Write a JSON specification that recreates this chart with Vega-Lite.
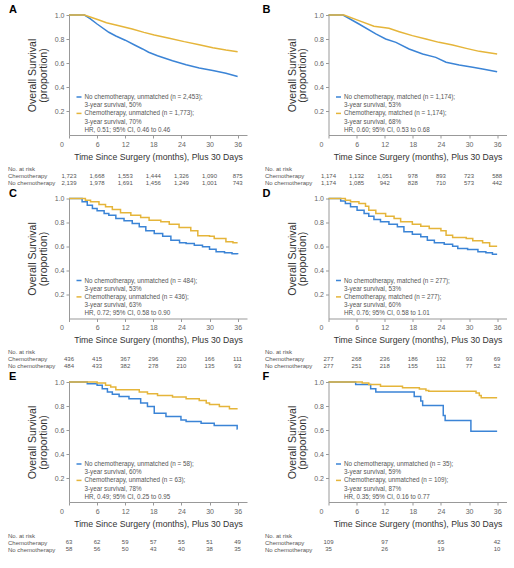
{
  "$schema": "https://vega.github.io/schema/vega-lite/v6.json",
  "background": "white",
  "padding": {"left": 7, "top": 4, "right": 0, "bottom": 0},
  "config": {
    "view": {"stroke": null},
    "font": "Liberation Sans",
    "axis": {"domainColor": "#999999", "tickColor": "#999999", "labelColor": "#666666", "labelFontSize": 7, "titleColor": "#333333", "titleFontWeight": "normal", "titleFontSize": 10.5, "grid": false, "tickSize": 3, "labelPadding": 2},
    "legend": {"orient": "none", "legendX": 6.5, "legendY": 78.5, "title": null, "symbolType": "stroke", "symbolSize": 25, "symbolStrokeWidth": 1.5, "labelFontSize": 6.3, "labelColor": "#555555", "rowPadding": 1.2, "labelOffset": 2, "padding": 0, "labelLimit": 400},
    "title": {"font": "Liberation Sans", "fontSize": 11, "fontWeight": "bold", "color": "#000000", "anchor": "start", "frame": "group", "offset": -4}
  },
  "datasets": {
    "km": [
      {"panel":"A","series":"no","month":0,"surv":1},{"panel":"A","series":"no","month":3.3,"surv":1},{"panel":"A","series":"no","month":4.5,"surv":0.97},{"panel":"A","series":"no","month":6,"surv":0.925},{"panel":"A","series":"no","month":8.5,"surv":0.856},{"panel":"A","series":"no","month":10,"surv":0.825},{"panel":"A","series":"no","month":12,"surv":0.79},{"panel":"A","series":"no","month":14,"surv":0.75},{"panel":"A","series":"no","month":15.7,"surv":0.717},{"panel":"A","series":"no","month":17,"surv":0.69},{"panel":"A","series":"no","month":18.9,"surv":0.661},{"panel":"A","series":"no","month":20.5,"surv":0.64},{"panel":"A","series":"no","month":22.1,"surv":0.619},{"panel":"A","series":"no","month":25,"surv":0.585},{"panel":"A","series":"no","month":27.8,"surv":0.558},{"panel":"A","series":"no","month":30.7,"surv":0.537},{"panel":"A","series":"no","month":33.5,"surv":0.514},{"panel":"A","series":"no","month":36,"surv":0.488},
      {"panel":"A","series":"chemo","month":0,"surv":1},{"panel":"A","series":"chemo","month":3.3,"surv":1},{"panel":"A","series":"chemo","month":6.4,"surv":0.958},{"panel":"A","series":"chemo","month":8,"surv":0.935},{"panel":"A","series":"chemo","month":10,"surv":0.917},{"panel":"A","series":"chemo","month":13.5,"surv":0.883},{"panel":"A","series":"chemo","month":16,"surv":0.855},{"panel":"A","series":"chemo","month":18.2,"surv":0.833},{"panel":"A","series":"chemo","month":21.4,"surv":0.806},{"panel":"A","series":"chemo","month":24.6,"surv":0.778},{"panel":"A","series":"chemo","month":27.8,"surv":0.753},{"panel":"A","series":"chemo","month":30.7,"surv":0.728},{"panel":"A","series":"chemo","month":33.5,"surv":0.708},{"panel":"A","series":"chemo","month":36,"surv":0.694},
      {"panel":"B","series":"no","month":0,"surv":1},{"panel":"B","series":"no","month":3.1,"surv":1},{"panel":"B","series":"no","month":6.5,"surv":0.925},{"panel":"B","series":"no","month":10.1,"surv":0.842},{"panel":"B","series":"no","month":12.2,"surv":0.8},{"panel":"B","series":"no","month":14.4,"surv":0.772},{"panel":"B","series":"no","month":17.2,"surv":0.717},{"panel":"B","series":"no","month":20.1,"surv":0.675},{"panel":"B","series":"no","month":22.9,"surv":0.647},{"panel":"B","series":"no","month":25.1,"surv":0.606},{"panel":"B","series":"no","month":27.9,"surv":0.583},{"panel":"B","series":"no","month":30.8,"surv":0.564},{"panel":"B","series":"no","month":32.9,"surv":0.55},{"panel":"B","series":"no","month":36,"surv":0.528},
      {"panel":"B","series":"chemo","month":0,"surv":1},{"panel":"B","series":"chemo","month":3.3,"surv":1},{"panel":"B","series":"chemo","month":6.5,"surv":0.953},{"panel":"B","series":"chemo","month":9.7,"surv":0.906},{"panel":"B","series":"chemo","month":12.9,"surv":0.889},{"panel":"B","series":"chemo","month":15.1,"surv":0.861},{"panel":"B","series":"chemo","month":17.9,"surv":0.828},{"panel":"B","series":"chemo","month":20.8,"surv":0.8},{"panel":"B","series":"chemo","month":23.6,"surv":0.772},{"panel":"B","series":"chemo","month":26.5,"surv":0.75},{"panel":"B","series":"chemo","month":29.4,"surv":0.722},{"panel":"B","series":"chemo","month":32.2,"surv":0.697},{"panel":"B","series":"chemo","month":36,"surv":0.675},
      {"panel":"C","series":"no","month":0,"surv":1},{"panel":"C","series":"no","month":2.8,"surv":0.972},{"panel":"C","series":"no","month":3.9,"surv":0.944},{"panel":"C","series":"no","month":5,"surv":0.917},{"panel":"C","series":"no","month":6,"surv":0.897},{"panel":"C","series":"no","month":7.5,"surv":0.875},{"panel":"C","series":"no","month":8.5,"surv":0.861},{"panel":"C","series":"no","month":10,"surv":0.833},{"panel":"C","series":"no","month":11.75,"surv":0.814},{"panel":"C","series":"no","month":13.5,"surv":0.792},{"panel":"C","series":"no","month":15,"surv":0.764},{"panel":"C","series":"no","month":16.4,"surv":0.731},{"panel":"C","series":"no","month":18.2,"surv":0.708},{"panel":"C","series":"no","month":20,"surv":0.686},{"panel":"C","series":"no","month":21.75,"surv":0.653},{"panel":"C","series":"no","month":23.6,"surv":0.631},{"panel":"C","series":"no","month":25,"surv":0.625},{"panel":"C","series":"no","month":26.75,"surv":0.611},{"panel":"C","series":"no","month":28.5,"surv":0.597},{"panel":"C","series":"no","month":30,"surv":0.578},{"panel":"C","series":"no","month":31.4,"surv":0.556},{"panel":"C","series":"no","month":33.2,"surv":0.547},{"panel":"C","series":"no","month":34.8,"surv":0.54},{"panel":"C","series":"no","month":36,"surv":0.536},
      {"panel":"C","series":"chemo","month":0,"surv":1},{"panel":"C","series":"chemo","month":3.5,"surv":0.986},{"panel":"C","series":"chemo","month":4.6,"surv":0.972},{"panel":"C","series":"chemo","month":6.4,"surv":0.95},{"panel":"C","series":"chemo","month":7.8,"surv":0.931},{"panel":"C","series":"chemo","month":9.25,"surv":0.908},{"panel":"C","series":"chemo","month":11,"surv":0.881},{"panel":"C","series":"chemo","month":13.2,"surv":0.861},{"panel":"C","series":"chemo","month":15.3,"surv":0.842},{"panel":"C","series":"chemo","month":17.1,"surv":0.819},{"panel":"C","series":"chemo","month":19.6,"surv":0.806},{"panel":"C","series":"chemo","month":21.4,"surv":0.786},{"panel":"C","series":"chemo","month":23.5,"surv":0.758},{"panel":"C","series":"chemo","month":26,"surv":0.731},{"panel":"C","series":"chemo","month":27.5,"surv":0.689},{"panel":"C","series":"chemo","month":30,"surv":0.686},{"panel":"C","series":"chemo","month":31,"surv":0.667},{"panel":"C","series":"chemo","month":33.5,"surv":0.639},{"panel":"C","series":"chemo","month":35,"surv":0.631},{"panel":"C","series":"chemo","month":36,"surv":0.631},
      {"panel":"D","series":"no","month":0,"surv":1},{"panel":"D","series":"no","month":2.6,"surv":0.98},{"panel":"D","series":"no","month":3.6,"surv":0.958},{"panel":"D","series":"no","month":4.7,"surv":0.931},{"panel":"D","series":"no","month":6.1,"surv":0.903},{"panel":"D","series":"no","month":7.6,"surv":0.875},{"panel":"D","series":"no","month":8.6,"surv":0.853},{"panel":"D","series":"no","month":9.7,"surv":0.825},{"panel":"D","series":"no","month":11.1,"surv":0.806},{"panel":"D","series":"no","month":12.9,"surv":0.786},{"panel":"D","series":"no","month":14.7,"surv":0.764},{"panel":"D","series":"no","month":16.1,"surv":0.722},{"panel":"D","series":"no","month":17.9,"surv":0.703},{"panel":"D","series":"no","month":19.7,"surv":0.681},{"panel":"D","series":"no","month":21.1,"surv":0.653},{"panel":"D","series":"no","month":22.6,"surv":0.631},{"panel":"D","series":"no","month":24.7,"surv":0.619},{"panel":"D","series":"no","month":26.5,"surv":0.603},{"panel":"D","series":"no","month":27.6,"surv":0.583},{"panel":"D","series":"no","month":29.7,"surv":0.575},{"panel":"D","series":"no","month":31.9,"surv":0.556},{"panel":"D","series":"no","month":33.6,"surv":0.547},{"panel":"D","series":"no","month":35,"surv":0.536},{"panel":"D","series":"no","month":36,"surv":0.536},
      {"panel":"D","series":"chemo","month":0,"surv":1},{"panel":"D","series":"chemo","month":3.6,"surv":0.986},{"panel":"D","series":"chemo","month":4.7,"surv":0.972},{"panel":"D","series":"chemo","month":6.5,"surv":0.958},{"panel":"D","series":"chemo","month":7.9,"surv":0.936},{"panel":"D","series":"chemo","month":8.6,"surv":0.903},{"panel":"D","series":"chemo","month":10.1,"surv":0.875},{"panel":"D","series":"chemo","month":12.2,"surv":0.853},{"panel":"D","series":"chemo","month":14,"surv":0.833},{"panel":"D","series":"chemo","month":15.4,"surv":0.806},{"panel":"D","series":"chemo","month":17.9,"surv":0.786},{"panel":"D","series":"chemo","month":19.7,"surv":0.769},{"panel":"D","series":"chemo","month":21.5,"surv":0.75},{"panel":"D","series":"chemo","month":24,"surv":0.731},{"panel":"D","series":"chemo","month":25.1,"surv":0.694},{"panel":"D","series":"chemo","month":26.5,"surv":0.675},{"panel":"D","series":"chemo","month":29.4,"surv":0.667},{"panel":"D","series":"chemo","month":30.8,"surv":0.647},{"panel":"D","series":"chemo","month":32.9,"surv":0.631},{"panel":"D","series":"chemo","month":34.4,"surv":0.603},{"panel":"D","series":"chemo","month":36,"surv":0.603},
      {"panel":"E","series":"no","month":0,"surv":1},{"panel":"E","series":"no","month":3.9,"surv":0.986},{"panel":"E","series":"no","month":6,"surv":0.972},{"panel":"E","series":"no","month":7.1,"surv":0.944},{"panel":"E","series":"no","month":8.2,"surv":0.916},{"panel":"E","series":"no","month":9.25,"surv":0.897},{"panel":"E","series":"no","month":10.7,"surv":0.88},{"panel":"E","series":"no","month":12.8,"surv":0.86},{"panel":"E","series":"no","month":15.3,"surv":0.824},{"panel":"E","series":"no","month":16.75,"surv":0.796},{"panel":"E","series":"no","month":18.2,"surv":0.74},{"panel":"E","series":"no","month":20.7,"surv":0.712},{"panel":"E","series":"no","month":23.9,"surv":0.684},{"panel":"E","series":"no","month":25,"surv":0.67},{"panel":"E","series":"no","month":28.2,"surv":0.656},{"panel":"E","series":"no","month":31,"surv":0.637},{"panel":"E","series":"no","month":35.9,"surv":0.609},{"panel":"E","series":"no","month":36,"surv":0.609},
      {"panel":"E","series":"chemo","month":0,"surv":1},{"panel":"E","series":"chemo","month":6,"surv":0.992},{"panel":"E","series":"chemo","month":7.8,"surv":0.972},{"panel":"E","series":"chemo","month":8.9,"surv":0.958},{"panel":"E","series":"chemo","month":10,"surv":0.936},{"panel":"E","series":"chemo","month":15,"surv":0.916},{"panel":"E","series":"chemo","month":16.75,"surv":0.902},{"panel":"E","series":"chemo","month":18.9,"surv":0.888},{"panel":"E","series":"chemo","month":22.1,"surv":0.874},{"panel":"E","series":"chemo","month":25,"surv":0.86},{"panel":"E","series":"chemo","month":27.8,"surv":0.846},{"panel":"E","series":"chemo","month":29.3,"surv":0.824},{"panel":"E","series":"chemo","month":30,"surv":0.813},{"panel":"E","series":"chemo","month":32.1,"surv":0.796},{"panel":"E","series":"chemo","month":34.25,"surv":0.777},{"panel":"E","series":"chemo","month":36,"surv":0.777},
      {"panel":"F","series":"no","month":0,"surv":1},{"panel":"F","series":"no","month":5.8,"surv":0.98},{"panel":"F","series":"no","month":9,"surv":0.944},{"panel":"F","series":"no","month":10.1,"surv":0.916},{"panel":"F","series":"no","month":18.3,"surv":0.88},{"panel":"F","series":"no","month":19.7,"surv":0.841},{"panel":"F","series":"no","month":20.1,"surv":0.804},{"panel":"F","series":"no","month":24.5,"surv":0.72},{"panel":"F","series":"no","month":24.9,"surv":0.679},{"panel":"F","series":"no","month":30.4,"surv":0.589},{"panel":"F","series":"no","month":36,"surv":0.589},
      {"panel":"F","series":"chemo","month":0,"surv":1},{"panel":"F","series":"chemo","month":7.2,"surv":0.992},{"panel":"F","series":"chemo","month":8.6,"surv":0.98},{"panel":"F","series":"chemo","month":11.1,"surv":0.964},{"panel":"F","series":"chemo","month":15.8,"surv":0.953},{"panel":"F","series":"chemo","month":19.4,"surv":0.941},{"panel":"F","series":"chemo","month":20.8,"surv":0.93},{"panel":"F","series":"chemo","month":21.4,"surv":0.922},{"panel":"F","series":"chemo","month":31.5,"surv":0.908},{"panel":"F","series":"chemo","month":32.2,"surv":0.888},{"panel":"F","series":"chemo","month":32.6,"surv":0.869},{"panel":"F","series":"chemo","month":36,"surv":0.869}
    ],
    "risk": [
      {"panel":"A","group":"Chemotherapy","month":0,"n":1723},{"panel":"A","group":"Chemotherapy","month":6,"n":1668},{"panel":"A","group":"Chemotherapy","month":12,"n":1553},{"panel":"A","group":"Chemotherapy","month":18,"n":1444},{"panel":"A","group":"Chemotherapy","month":24,"n":1326},{"panel":"A","group":"Chemotherapy","month":30,"n":1090},{"panel":"A","group":"Chemotherapy","month":36,"n":875},
      {"panel":"A","group":"No chemotherapy","month":0,"n":2139},{"panel":"A","group":"No chemotherapy","month":6,"n":1978},{"panel":"A","group":"No chemotherapy","month":12,"n":1691},{"panel":"A","group":"No chemotherapy","month":18,"n":1456},{"panel":"A","group":"No chemotherapy","month":24,"n":1249},{"panel":"A","group":"No chemotherapy","month":30,"n":1001},{"panel":"A","group":"No chemotherapy","month":36,"n":743},
      {"panel":"B","group":"Chemotherapy","month":0,"n":1174},{"panel":"B","group":"Chemotherapy","month":6,"n":1132},{"panel":"B","group":"Chemotherapy","month":12,"n":1051},{"panel":"B","group":"Chemotherapy","month":18,"n":978},{"panel":"B","group":"Chemotherapy","month":24,"n":893},{"panel":"B","group":"Chemotherapy","month":30,"n":723},{"panel":"B","group":"Chemotherapy","month":36,"n":588},
      {"panel":"B","group":"No chemotherapy","month":0,"n":1174},{"panel":"B","group":"No chemotherapy","month":6,"n":1085},{"panel":"B","group":"No chemotherapy","month":12,"n":942},{"panel":"B","group":"No chemotherapy","month":18,"n":828},{"panel":"B","group":"No chemotherapy","month":24,"n":710},{"panel":"B","group":"No chemotherapy","month":30,"n":573},{"panel":"B","group":"No chemotherapy","month":36,"n":442},
      {"panel":"C","group":"Chemotherapy","month":0,"n":436},{"panel":"C","group":"Chemotherapy","month":6,"n":415},{"panel":"C","group":"Chemotherapy","month":12,"n":367},{"panel":"C","group":"Chemotherapy","month":18,"n":296},{"panel":"C","group":"Chemotherapy","month":24,"n":220},{"panel":"C","group":"Chemotherapy","month":30,"n":166},{"panel":"C","group":"Chemotherapy","month":36,"n":111},
      {"panel":"C","group":"No chemotherapy","month":0,"n":484},{"panel":"C","group":"No chemotherapy","month":6,"n":433},{"panel":"C","group":"No chemotherapy","month":12,"n":382},{"panel":"C","group":"No chemotherapy","month":18,"n":278},{"panel":"C","group":"No chemotherapy","month":24,"n":210},{"panel":"C","group":"No chemotherapy","month":30,"n":135},{"panel":"C","group":"No chemotherapy","month":36,"n":93},
      {"panel":"D","group":"Chemotherapy","month":0,"n":277},{"panel":"D","group":"Chemotherapy","month":6,"n":268},{"panel":"D","group":"Chemotherapy","month":12,"n":236},{"panel":"D","group":"Chemotherapy","month":18,"n":186},{"panel":"D","group":"Chemotherapy","month":24,"n":132},{"panel":"D","group":"Chemotherapy","month":30,"n":93},{"panel":"D","group":"Chemotherapy","month":36,"n":69},
      {"panel":"D","group":"No chemotherapy","month":0,"n":277},{"panel":"D","group":"No chemotherapy","month":6,"n":251},{"panel":"D","group":"No chemotherapy","month":12,"n":218},{"panel":"D","group":"No chemotherapy","month":18,"n":155},{"panel":"D","group":"No chemotherapy","month":24,"n":111},{"panel":"D","group":"No chemotherapy","month":30,"n":77},{"panel":"D","group":"No chemotherapy","month":36,"n":52},
      {"panel":"E","group":"Chemotherapy","month":0,"n":63},{"panel":"E","group":"Chemotherapy","month":6,"n":62},{"panel":"E","group":"Chemotherapy","month":12,"n":59},{"panel":"E","group":"Chemotherapy","month":18,"n":57},{"panel":"E","group":"Chemotherapy","month":24,"n":55},{"panel":"E","group":"Chemotherapy","month":30,"n":51},{"panel":"E","group":"Chemotherapy","month":36,"n":49},
      {"panel":"E","group":"No chemotherapy","month":0,"n":58},{"panel":"E","group":"No chemotherapy","month":6,"n":56},{"panel":"E","group":"No chemotherapy","month":12,"n":50},{"panel":"E","group":"No chemotherapy","month":18,"n":43},{"panel":"E","group":"No chemotherapy","month":24,"n":40},{"panel":"E","group":"No chemotherapy","month":30,"n":38},{"panel":"E","group":"No chemotherapy","month":36,"n":35},
      {"panel":"F","group":"Chemotherapy","month":0,"n":109},{"panel":"F","group":"Chemotherapy","month":12,"n":97},{"panel":"F","group":"Chemotherapy","month":24,"n":65},{"panel":"F","group":"Chemotherapy","month":36,"n":42},
      {"panel":"F","group":"No chemotherapy","month":0,"n":35},{"panel":"F","group":"No chemotherapy","month":12,"n":26},{"panel":"F","group":"No chemotherapy","month":24,"n":19},{"panel":"F","group":"No chemotherapy","month":36,"n":10}
    ]
  },
  "spacing": 1.5,
  "resolve": {"scale": {"color": "independent", "x": "independent", "y": "independent"}, "legend": {"color": "independent"}},
  "vconcat": [
    {
      "spacing": 15.5,
      "resolve": {"scale": {"color": "independent", "x": "independent", "y": "independent"}, "legend": {"color": "independent"}},
      "hconcat": [
        {
          "spacing": 4,
          "resolve": {"scale": {"color": "independent", "x": "independent", "y": "independent"}, "legend": {"color": "independent"}},
          "vconcat": [
            {
              "width": 178, "height": 120,
              "title": {"text": "A", "dx": -60},
              "data": {"name": "km"},
              "transform": [{"filter": "datum.panel === 'A'"}],
              "mark": {"type": "line", "interpolate": "linear", "strokeWidth": 1.5},
              "encoding": {
                "x": {"field": "month", "type": "quantitative", "scale": {"domain": [0, 38], "nice": false}, "axis": {"values": [0, 6, 12, 18, 24, 30, 36], "labelFlush": false, "labelOffset": {"condition": {"test": "datum.value === 0", "value": -7.5}, "value": 0}, "title": "Time Since Surgery (months), Plus 30 Days", "titleFontSize": 8.7, "titlePadding": 5}},
                "y": {"field": "surv", "type": "quantitative", "scale": {"domain": [0, 1], "nice": false}, "axis": {"values": [0.2, 0.4, 0.6, 0.8, 1.0], "format": ".1f", "title": ["Overall Survival", "(proportion)"], "titlePadding": 6, "titleLineHeight": 10.5}},
                "color": {"field": "series", "type": "nominal", "scale": {"domain": ["no", "no2", "chemo", "chemo2", "hr"], "range": ["#3b84d6", "transparent", "#e5b53a", "transparent", "transparent"]}, "legend": {"labelExpr": "datum.value === 'no' ? 'No chemotherapy, unmatched (n = 2,453);' : datum.value === 'no2' ? '3-year survival, 50%' : datum.value === 'chemo' ? 'Chemotherapy, unmatched (n = 1,773);' : datum.value === 'chemo2' ? '3-year survival, 70%' : 'HR, 0.51; 95% CI, 0.46 to 0.46'"}}
              }
            },
            {
              "width": 178, "height": 21,
              "data": {"name": "risk"},
              "transform": [{"filter": "datum.panel === 'A'"}],
              "mark": {"type": "text", "fontSize": 6, "color": "#555555"},
              "encoding": {
                "x": {"field": "month", "type": "quantitative", "scale": {"domain": [0, 38], "nice": false}, "axis": null},
                "y": {"field": "group", "type": "nominal", "scale": {"type": "point", "domain": ["No. at risk", "Chemotherapy", "No chemotherapy"], "padding": 0.5}, "axis": {"title": null, "domain": false, "ticks": false, "labelAlign": "left", "labelPadding": 61.5, "labelFontSize": 6, "labelColor": "#555555"}},
                "text": {"field": "n", "type": "quantitative", "format": ","}
              }
            }
          ]
        },
        {
          "spacing": 4,
          "resolve": {"scale": {"color": "independent", "x": "independent", "y": "independent"}, "legend": {"color": "independent"}},
          "vconcat": [
            {
              "width": 178, "height": 120,
              "title": {"text": "B", "dx": -66},
              "data": {"name": "km"},
              "transform": [{"filter": "datum.panel === 'B'"}],
              "mark": {"type": "line", "interpolate": "linear", "strokeWidth": 1.5},
              "encoding": {
                "x": {"field": "month", "type": "quantitative", "scale": {"domain": [0, 38], "nice": false}, "axis": {"values": [0, 6, 12, 18, 24, 30, 36], "labelFlush": false, "labelOffset": {"condition": {"test": "datum.value === 0", "value": -7.5}, "value": 0}, "title": "Time Since Surgery (months), Plus 30 Days", "titleFontSize": 8.7, "titlePadding": 5}},
                "y": {"field": "surv", "type": "quantitative", "scale": {"domain": [0, 1], "nice": false}, "axis": {"values": [0.2, 0.4, 0.6, 0.8, 1.0], "format": ".1f", "title": ["Overall Survival", "(proportion)"], "titlePadding": 6, "titleLineHeight": 10.5}},
                "color": {"field": "series", "type": "nominal", "scale": {"domain": ["no", "no2", "chemo", "chemo2", "hr"], "range": ["#3b84d6", "transparent", "#e5b53a", "transparent", "transparent"]}, "legend": {"labelExpr": "datum.value === 'no' ? 'No chemotherapy, matched (n = 1,174);' : datum.value === 'no2' ? '3-year survival, 53%' : datum.value === 'chemo' ? 'Chemotherapy, matched (n = 1,174);' : datum.value === 'chemo2' ? '3-year survival, 68%' : 'HR, 0.60; 95% CI, 0.53 to 0.68'"}}
              }
            },
            {
              "width": 178, "height": 21,
              "data": {"name": "risk"},
              "transform": [{"filter": "datum.panel === 'B'"}],
              "mark": {"type": "text", "fontSize": 6, "color": "#555555"},
              "encoding": {
                "x": {"field": "month", "type": "quantitative", "scale": {"domain": [0, 38], "nice": false}, "axis": null},
                "y": {"field": "group", "type": "nominal", "scale": {"type": "point", "domain": ["No. at risk", "Chemotherapy", "No chemotherapy"], "padding": 0.5}, "axis": {"title": null, "domain": false, "ticks": false, "labelAlign": "left", "labelPadding": 64, "labelFontSize": 6, "labelColor": "#555555"}},
                "text": {"field": "n", "type": "quantitative", "format": ","}
              }
            }
          ]
        }
      ]
    },
    {
      "spacing": 15.5,
      "resolve": {"scale": {"color": "independent", "x": "independent", "y": "independent"}, "legend": {"color": "independent"}},
      "hconcat": [
        {
          "spacing": 3.5,
          "resolve": {"scale": {"color": "independent", "x": "independent", "y": "independent"}, "legend": {"color": "independent"}},
          "vconcat": [
            {
              "width": 178, "height": 120,
              "title": {"text": "C", "dx": -60},
              "data": {"name": "km"},
              "transform": [{"filter": "datum.panel === 'C'"}],
              "mark": {"type": "line", "interpolate": "step-after", "strokeWidth": 1.5},
              "encoding": {
                "x": {"field": "month", "type": "quantitative", "scale": {"domain": [0, 38], "nice": false}, "axis": {"values": [0, 6, 12, 18, 24, 30, 36], "labelFlush": false, "labelOffset": {"condition": {"test": "datum.value === 0", "value": -7.5}, "value": 0}, "title": "Time Since Surgery (months), Plus 30 Days", "titleFontSize": 8.7, "titlePadding": 5}},
                "y": {"field": "surv", "type": "quantitative", "scale": {"domain": [0, 1], "nice": false}, "axis": {"values": [0.2, 0.4, 0.6, 0.8, 1.0], "format": ".1f", "title": ["Overall Survival", "(proportion)"], "titlePadding": 6, "titleLineHeight": 10.5}},
                "color": {"field": "series", "type": "nominal", "scale": {"domain": ["no", "no2", "chemo", "chemo2", "hr"], "range": ["#3b84d6", "transparent", "#e5b53a", "transparent", "transparent"]}, "legend": {"labelExpr": "datum.value === 'no' ? 'No chemotherapy, unmatched (n = 484);' : datum.value === 'no2' ? '3-year survival, 53%' : datum.value === 'chemo' ? 'Chemotherapy, unmatched (n = 436);' : datum.value === 'chemo2' ? '3-year survival, 63%' : 'HR, 0.72; 95% CI, 0.58 to 0.90'"}}
              }
            },
            {
              "width": 178, "height": 21,
              "data": {"name": "risk"},
              "transform": [{"filter": "datum.panel === 'C'"}],
              "mark": {"type": "text", "fontSize": 6, "color": "#555555"},
              "encoding": {
                "x": {"field": "month", "type": "quantitative", "scale": {"domain": [0, 38], "nice": false}, "axis": null},
                "y": {"field": "group", "type": "nominal", "scale": {"type": "point", "domain": ["No. at risk", "Chemotherapy", "No chemotherapy"], "padding": 0.5}, "axis": {"title": null, "domain": false, "ticks": false, "labelAlign": "left", "labelPadding": 61.5, "labelFontSize": 6, "labelColor": "#555555"}},
                "text": {"field": "n", "type": "quantitative", "format": ","}
              }
            }
          ]
        },
        {
          "spacing": 3.5,
          "resolve": {"scale": {"color": "independent", "x": "independent", "y": "independent"}, "legend": {"color": "independent"}},
          "vconcat": [
            {
              "width": 178, "height": 120,
              "title": {"text": "D", "dx": -66},
              "data": {"name": "km"},
              "transform": [{"filter": "datum.panel === 'D'"}],
              "mark": {"type": "line", "interpolate": "step-after", "strokeWidth": 1.5},
              "encoding": {
                "x": {"field": "month", "type": "quantitative", "scale": {"domain": [0, 38], "nice": false}, "axis": {"values": [0, 6, 12, 18, 24, 30, 36], "labelFlush": false, "labelOffset": {"condition": {"test": "datum.value === 0", "value": -7.5}, "value": 0}, "title": "Time Since Surgery (months), Plus 30 Days", "titleFontSize": 8.7, "titlePadding": 5}},
                "y": {"field": "surv", "type": "quantitative", "scale": {"domain": [0, 1], "nice": false}, "axis": {"values": [0.2, 0.4, 0.6, 0.8, 1.0], "format": ".1f", "title": ["Overall Survival", "(proportion)"], "titlePadding": 6, "titleLineHeight": 10.5}},
                "color": {"field": "series", "type": "nominal", "scale": {"domain": ["no", "no2", "chemo", "chemo2", "hr"], "range": ["#3b84d6", "transparent", "#e5b53a", "transparent", "transparent"]}, "legend": {"labelExpr": "datum.value === 'no' ? 'No chemotherapy, matched (n = 277);' : datum.value === 'no2' ? '3-year survival, 53%' : datum.value === 'chemo' ? 'Chemotherapy, matched (n = 277);' : datum.value === 'chemo2' ? '3-year survival, 60%' : 'HR, 0.76; 95% CI, 0.58 to 1.01'"}}
              }
            },
            {
              "width": 178, "height": 21,
              "data": {"name": "risk"},
              "transform": [{"filter": "datum.panel === 'D'"}],
              "mark": {"type": "text", "fontSize": 6, "color": "#555555"},
              "encoding": {
                "x": {"field": "month", "type": "quantitative", "scale": {"domain": [0, 38], "nice": false}, "axis": null},
                "y": {"field": "group", "type": "nominal", "scale": {"type": "point", "domain": ["No. at risk", "Chemotherapy", "No chemotherapy"], "padding": 0.5}, "axis": {"title": null, "domain": false, "ticks": false, "labelAlign": "left", "labelPadding": 64, "labelFontSize": 6, "labelColor": "#555555"}},
                "text": {"field": "n", "type": "quantitative", "format": ","}
              }
            }
          ]
        }
      ]
    },
    {
      "spacing": 15.5,
      "resolve": {"scale": {"color": "independent", "x": "independent", "y": "independent"}, "legend": {"color": "independent"}},
      "hconcat": [
        {
          "spacing": 3.5,
          "resolve": {"scale": {"color": "independent", "x": "independent", "y": "independent"}, "legend": {"color": "independent"}},
          "vconcat": [
            {
              "width": 178, "height": 120,
              "title": {"text": "E", "dx": -60},
              "data": {"name": "km"},
              "transform": [{"filter": "datum.panel === 'E'"}],
              "mark": {"type": "line", "interpolate": "step-after", "strokeWidth": 1.5},
              "encoding": {
                "x": {"field": "month", "type": "quantitative", "scale": {"domain": [0, 38], "nice": false}, "axis": {"values": [0, 6, 12, 18, 24, 30, 36], "labelFlush": false, "labelOffset": {"condition": {"test": "datum.value === 0", "value": -7.5}, "value": 0}, "title": "Time Since Surgery (months), Plus 30 Days", "titleFontSize": 8.7, "titlePadding": 5}},
                "y": {"field": "surv", "type": "quantitative", "scale": {"domain": [0, 1], "nice": false}, "axis": {"values": [0.2, 0.4, 0.6, 0.8, 1.0], "format": ".1f", "title": ["Overall Survival", "(proportion)"], "titlePadding": 6, "titleLineHeight": 10.5}},
                "color": {"field": "series", "type": "nominal", "scale": {"domain": ["no", "no2", "chemo", "chemo2", "hr"], "range": ["#3b84d6", "transparent", "#e5b53a", "transparent", "transparent"]}, "legend": {"labelExpr": "datum.value === 'no' ? 'No chemotherapy, unmatched (n = 58);' : datum.value === 'no2' ? '3-year survival, 60%' : datum.value === 'chemo' ? 'Chemotherapy, unmatched (n = 63);' : datum.value === 'chemo2' ? '3-year survival, 78%' : 'HR, 0.49; 95% CI, 0.25 to 0.95'"}}
              }
            },
            {
              "width": 178, "height": 21,
              "data": {"name": "risk"},
              "transform": [{"filter": "datum.panel === 'E'"}],
              "mark": {"type": "text", "fontSize": 6, "color": "#555555"},
              "encoding": {
                "x": {"field": "month", "type": "quantitative", "scale": {"domain": [0, 38], "nice": false}, "axis": null},
                "y": {"field": "group", "type": "nominal", "scale": {"type": "point", "domain": ["No. at risk", "Chemotherapy", "No chemotherapy"], "padding": 0.5}, "axis": {"title": null, "domain": false, "ticks": false, "labelAlign": "left", "labelPadding": 61.5, "labelFontSize": 6, "labelColor": "#555555"}},
                "text": {"field": "n", "type": "quantitative", "format": ","}
              }
            }
          ]
        },
        {
          "spacing": 3.5,
          "resolve": {"scale": {"color": "independent", "x": "independent", "y": "independent"}, "legend": {"color": "independent"}},
          "vconcat": [
            {
              "width": 178, "height": 120,
              "title": {"text": "F", "dx": -66},
              "data": {"name": "km"},
              "transform": [{"filter": "datum.panel === 'F'"}],
              "mark": {"type": "line", "interpolate": "step-after", "strokeWidth": 1.5},
              "encoding": {
                "x": {"field": "month", "type": "quantitative", "scale": {"domain": [0, 38], "nice": false}, "axis": {"values": [0, 6, 12, 18, 24, 30, 36], "labelFlush": false, "labelOffset": {"condition": {"test": "datum.value === 0", "value": -7.5}, "value": 0}, "title": "Time Since Surgery (months), Plus 30 Days", "titleFontSize": 8.7, "titlePadding": 5}},
                "y": {"field": "surv", "type": "quantitative", "scale": {"domain": [0, 1], "nice": false}, "axis": {"values": [0.2, 0.4, 0.6, 0.8, 1.0], "format": ".1f", "title": ["Overall Survival", "(proportion)"], "titlePadding": 6, "titleLineHeight": 10.5}},
                "color": {"field": "series", "type": "nominal", "scale": {"domain": ["no", "no2", "chemo", "chemo2", "hr"], "range": ["#3b84d6", "transparent", "#e5b53a", "transparent", "transparent"]}, "legend": {"labelExpr": "datum.value === 'no' ? 'No chemotherapy, unmatched (n = 35);' : datum.value === 'no2' ? '3-year survival, 59%' : datum.value === 'chemo' ? 'Chemotherapy, unmatched (n = 109);' : datum.value === 'chemo2' ? '3-year survival, 87%' : 'HR, 0.35; 95% CI, 0.16 to 0.77'"}}
              }
            },
            {
              "width": 178, "height": 21,
              "data": {"name": "risk"},
              "transform": [{"filter": "datum.panel === 'F'"}],
              "mark": {"type": "text", "fontSize": 6, "color": "#555555"},
              "encoding": {
                "x": {"field": "month", "type": "quantitative", "scale": {"domain": [0, 38], "nice": false}, "axis": null},
                "y": {"field": "group", "type": "nominal", "scale": {"type": "point", "domain": ["No. at risk", "Chemotherapy", "No chemotherapy"], "padding": 0.5}, "axis": {"title": null, "domain": false, "ticks": false, "labelAlign": "left", "labelPadding": 64, "labelFontSize": 6, "labelColor": "#555555"}},
                "text": {"field": "n", "type": "quantitative", "format": ","}
              }
            }
          ]
        }
      ]
    }
  ]
}
